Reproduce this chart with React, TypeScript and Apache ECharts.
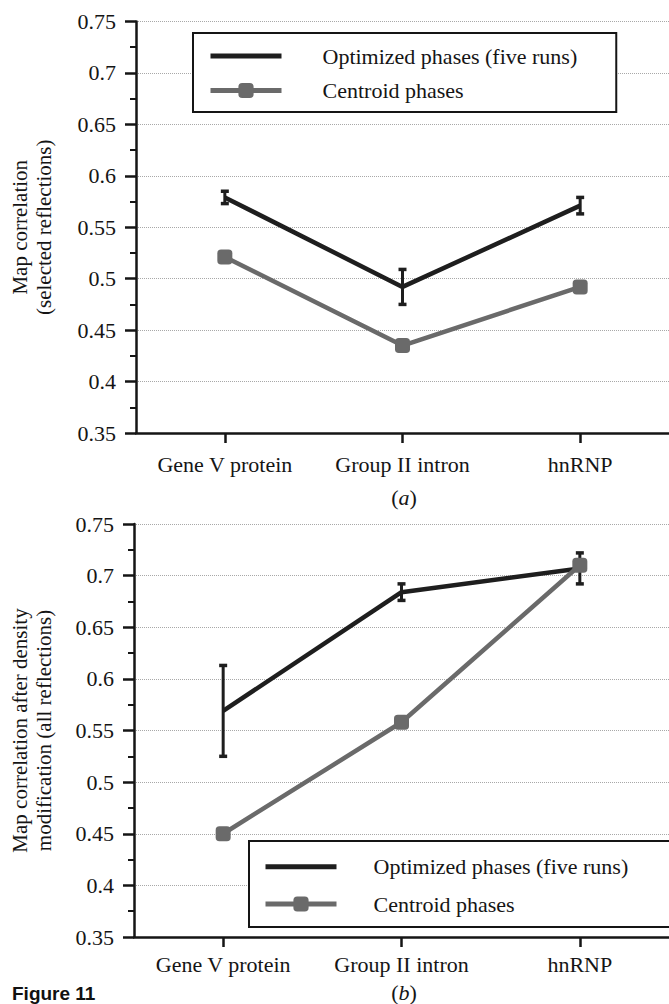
import React, { useEffect, useRef } from "react";
import * as echarts from "echarts";

// Categories shared by both panels
const categories = ["Gene V protein", "Group II intron", "hnRNP"];

// Panel (a): map correlation, selected reflections
const optimizedA = [0.579, 0.492, 0.571];
const optimizedErrA = [0.006, 0.017, 0.008];
const centroidA = [0.521, 0.435, 0.492];

// Panel (b): map correlation after density modification, all reflections
const optimizedB = [0.569, 0.684, 0.707];
const optimizedErrB = [0.044, 0.008, 0.015];
const centroidB = [0.45, 0.558, 0.71];

// Value axis range shared by both panels
const yMin = 0.35;
const yMax = 0.75;
const yStep = 0.05;

const OPT_NAME = "Optimized phases (five runs)";
const CEN_NAME = "Centroid phases";

const SERIF = "Liberation Serif";
const INK = "#151515";
const DARK = "#1e1e1e";
const GRAY = "#6a6a6a";
const FS = 22;

function errorRows(values: number[], errs: number[]) {
  return values.map((v, i) => [i, v - errs[i], v + errs[i]]);
}

function renderErrorBar(params: any, api: any) {
  const x = api.value(0);
  const lo = api.value(1);
  const hi = api.value(2);
  const top = api.coord([x, hi]);
  const bot = api.coord([x, lo]);
  const cap = 4;
  const style = { stroke: DARK, lineWidth: 3 };
  return {
    type: "group",
    children: [
      { type: "line", shape: { x1: top[0], y1: top[1], x2: bot[0], y2: bot[1] }, style },
      { type: "line", shape: { x1: top[0] - cap, y1: top[1], x2: top[0] + cap, y2: top[1] }, style: { stroke: DARK, lineWidth: 3.5 } },
      { type: "line", shape: { x1: bot[0] - cap, y1: bot[1], x2: bot[0] + cap, y2: bot[1] }, style: { stroke: DARK, lineWidth: 3.5 } },
    ],
  };
}

function xAxisFor(gridIndex: number, labelMargin: number) {
  return {
    type: "category",
    gridIndex,
    data: categories,
    boundaryGap: true,
    axisLine: { show: true, onZero: false, lineStyle: { color: INK, width: 2.5 } },
    axisTick: { show: true, alignWithLabel: true, length: 10, lineStyle: { color: INK, width: 2.5 } },
    axisLabel: { color: INK, fontFamily: SERIF, fontSize: FS, margin: labelMargin },
    splitLine: { show: false },
  };
}

function yAxisFor(gridIndex: number, name: string, nameGap: number) {
  return {
    type: "value",
    gridIndex,
    min: yMin,
    max: yMax,
    interval: yStep,
    name,
    nameLocation: "middle",
    nameRotate: 90,
    nameGap,
    nameTextStyle: { color: INK, fontFamily: SERIF, fontSize: 21, lineHeight: 24 },
    axisLine: { show: true, lineStyle: { color: INK, width: 2.5 } },
    axisTick: { show: true, length: 11, lineStyle: { color: INK, width: 2.5 } },
    minorTick: { show: true, splitNumber: 2, length: 6, lineStyle: { color: INK, width: 2 } },
    axisLabel: {
      color: INK,
      fontFamily: SERIF,
      fontSize: FS,
      margin: 20,
      formatter: (v: number) => String(Math.round(v * 100) / 100),
    },
    splitLine: { show: true, lineStyle: { type: "dotted", color: "#a8a8a8", width: 1 } },
    minorSplitLine: { show: false },
  };
}

function legendAt(left: number, top: number, padding: number[], itemGap: number, textPad: number) {
  return {
    orient: "vertical",
    left,
    top,
    padding,
    itemGap,
    itemWidth: 71,
    itemHeight: 19,
    borderColor: INK,
    borderWidth: 2,
    backgroundColor: "#fff",
    selectedMode: false,
    lineStyle: { width: 5 },
    textStyle: { color: INK, fontFamily: SERIF, fontSize: FS, padding: [0, 0, 0, textPad] },
    data: [{ name: OPT_NAME, itemStyle: { opacity: 0 } }, { name: CEN_NAME }],
  };
}

function seriesFor(gridIndex: number, opt: number[], err: number[], cen: number[]) {
  return [
    {
      name: OPT_NAME,
      type: "line",
      xAxisIndex: gridIndex,
      yAxisIndex: gridIndex,
      data: opt,
      symbol: "none",
      lineStyle: { color: DARK, width: 4.5 },
      itemStyle: { color: DARK },
      z: 2,
    },
    {
      name: "error-" + gridIndex,
      type: "custom",
      xAxisIndex: gridIndex,
      yAxisIndex: gridIndex,
      data: errorRows(opt, err),
      encode: { x: 0, y: [1, 2] },
      renderItem: renderErrorBar,
      z: 3,
    },
    {
      name: CEN_NAME,
      type: "line",
      xAxisIndex: gridIndex,
      yAxisIndex: gridIndex,
      data: cen,
      symbol: "roundRect",
      symbolSize: 15,
      lineStyle: { color: GRAY, width: 4.5 },
      itemStyle: { color: GRAY },
      z: 4,
    },
  ];
}

function panelLetter(letter: string, y: number) {
  return {
    type: "text",
    x: 404,
    y,
    style: {
      text: "({i|" + letter + "})",
      fontFamily: SERIF,
      fontSize: FS,
      fill: INK,
      textAlign: "center",
      textVerticalAlign: "middle",
      rich: { i: { fontFamily: SERIF, fontSize: FS, fontStyle: "italic", fill: INK } },
    },
  };
}

export default function App() {
  const ref = useRef<HTMLDivElement>(null);

  useEffect(() => {
    if (!ref.current) return;
    const chart = echarts.init(ref.current, null, { renderer: "svg" });
    chart.setOption({
      animation: false,
      backgroundColor: "#fff",
      textStyle: { fontFamily: SERIF },
      grid: [
        { left: 136, top: 21.5, width: 537, height: 411.5, containLabel: false },
        { left: 131.5, top: 524, width: 546, height: 413, containLabel: false },
      ],
      xAxis: [xAxisFor(0, 20), xAxisFor(1, 16)],
      yAxis: [
        yAxisFor(0, "Map correlation\n(selected reflections)", 80),
        yAxisFor(1, "Map correlation after density\nmodification (all reflections)", 78),
      ],
      legend: [
        legendAt(193, 33, [12, 39, 10.5, 15], 12.5, 36),
        legendAt(249, 841, [14.7, 50, 12, 14], 15.3, 32),
      ],
      series: [
        ...seriesFor(0, optimizedA, optimizedErrA, centroidA),
        ...seriesFor(1, optimizedB, optimizedErrB, centroidB),
      ],
      graphic: [
        panelLetter("a", 497),
        panelLetter("b", 992),
        {
          type: "text",
          x: 12,
          y: 1003,
          style: {
            text: "Figure 11",
            fontFamily: "Liberation Sans",
            fontWeight: "bold",
            fontSize: 19,
            fill: "#111",
            textAlign: "left",
            textVerticalAlign: "bottom",
          },
        },
      ],
    });
    return () => chart.dispose();
  }, []);

  return (
    <div
      ref={ref}
      style={{ position: "absolute", left: 0, top: 0, width: 669, height: 1004, overflow: "hidden" }}
    />
  );
}
